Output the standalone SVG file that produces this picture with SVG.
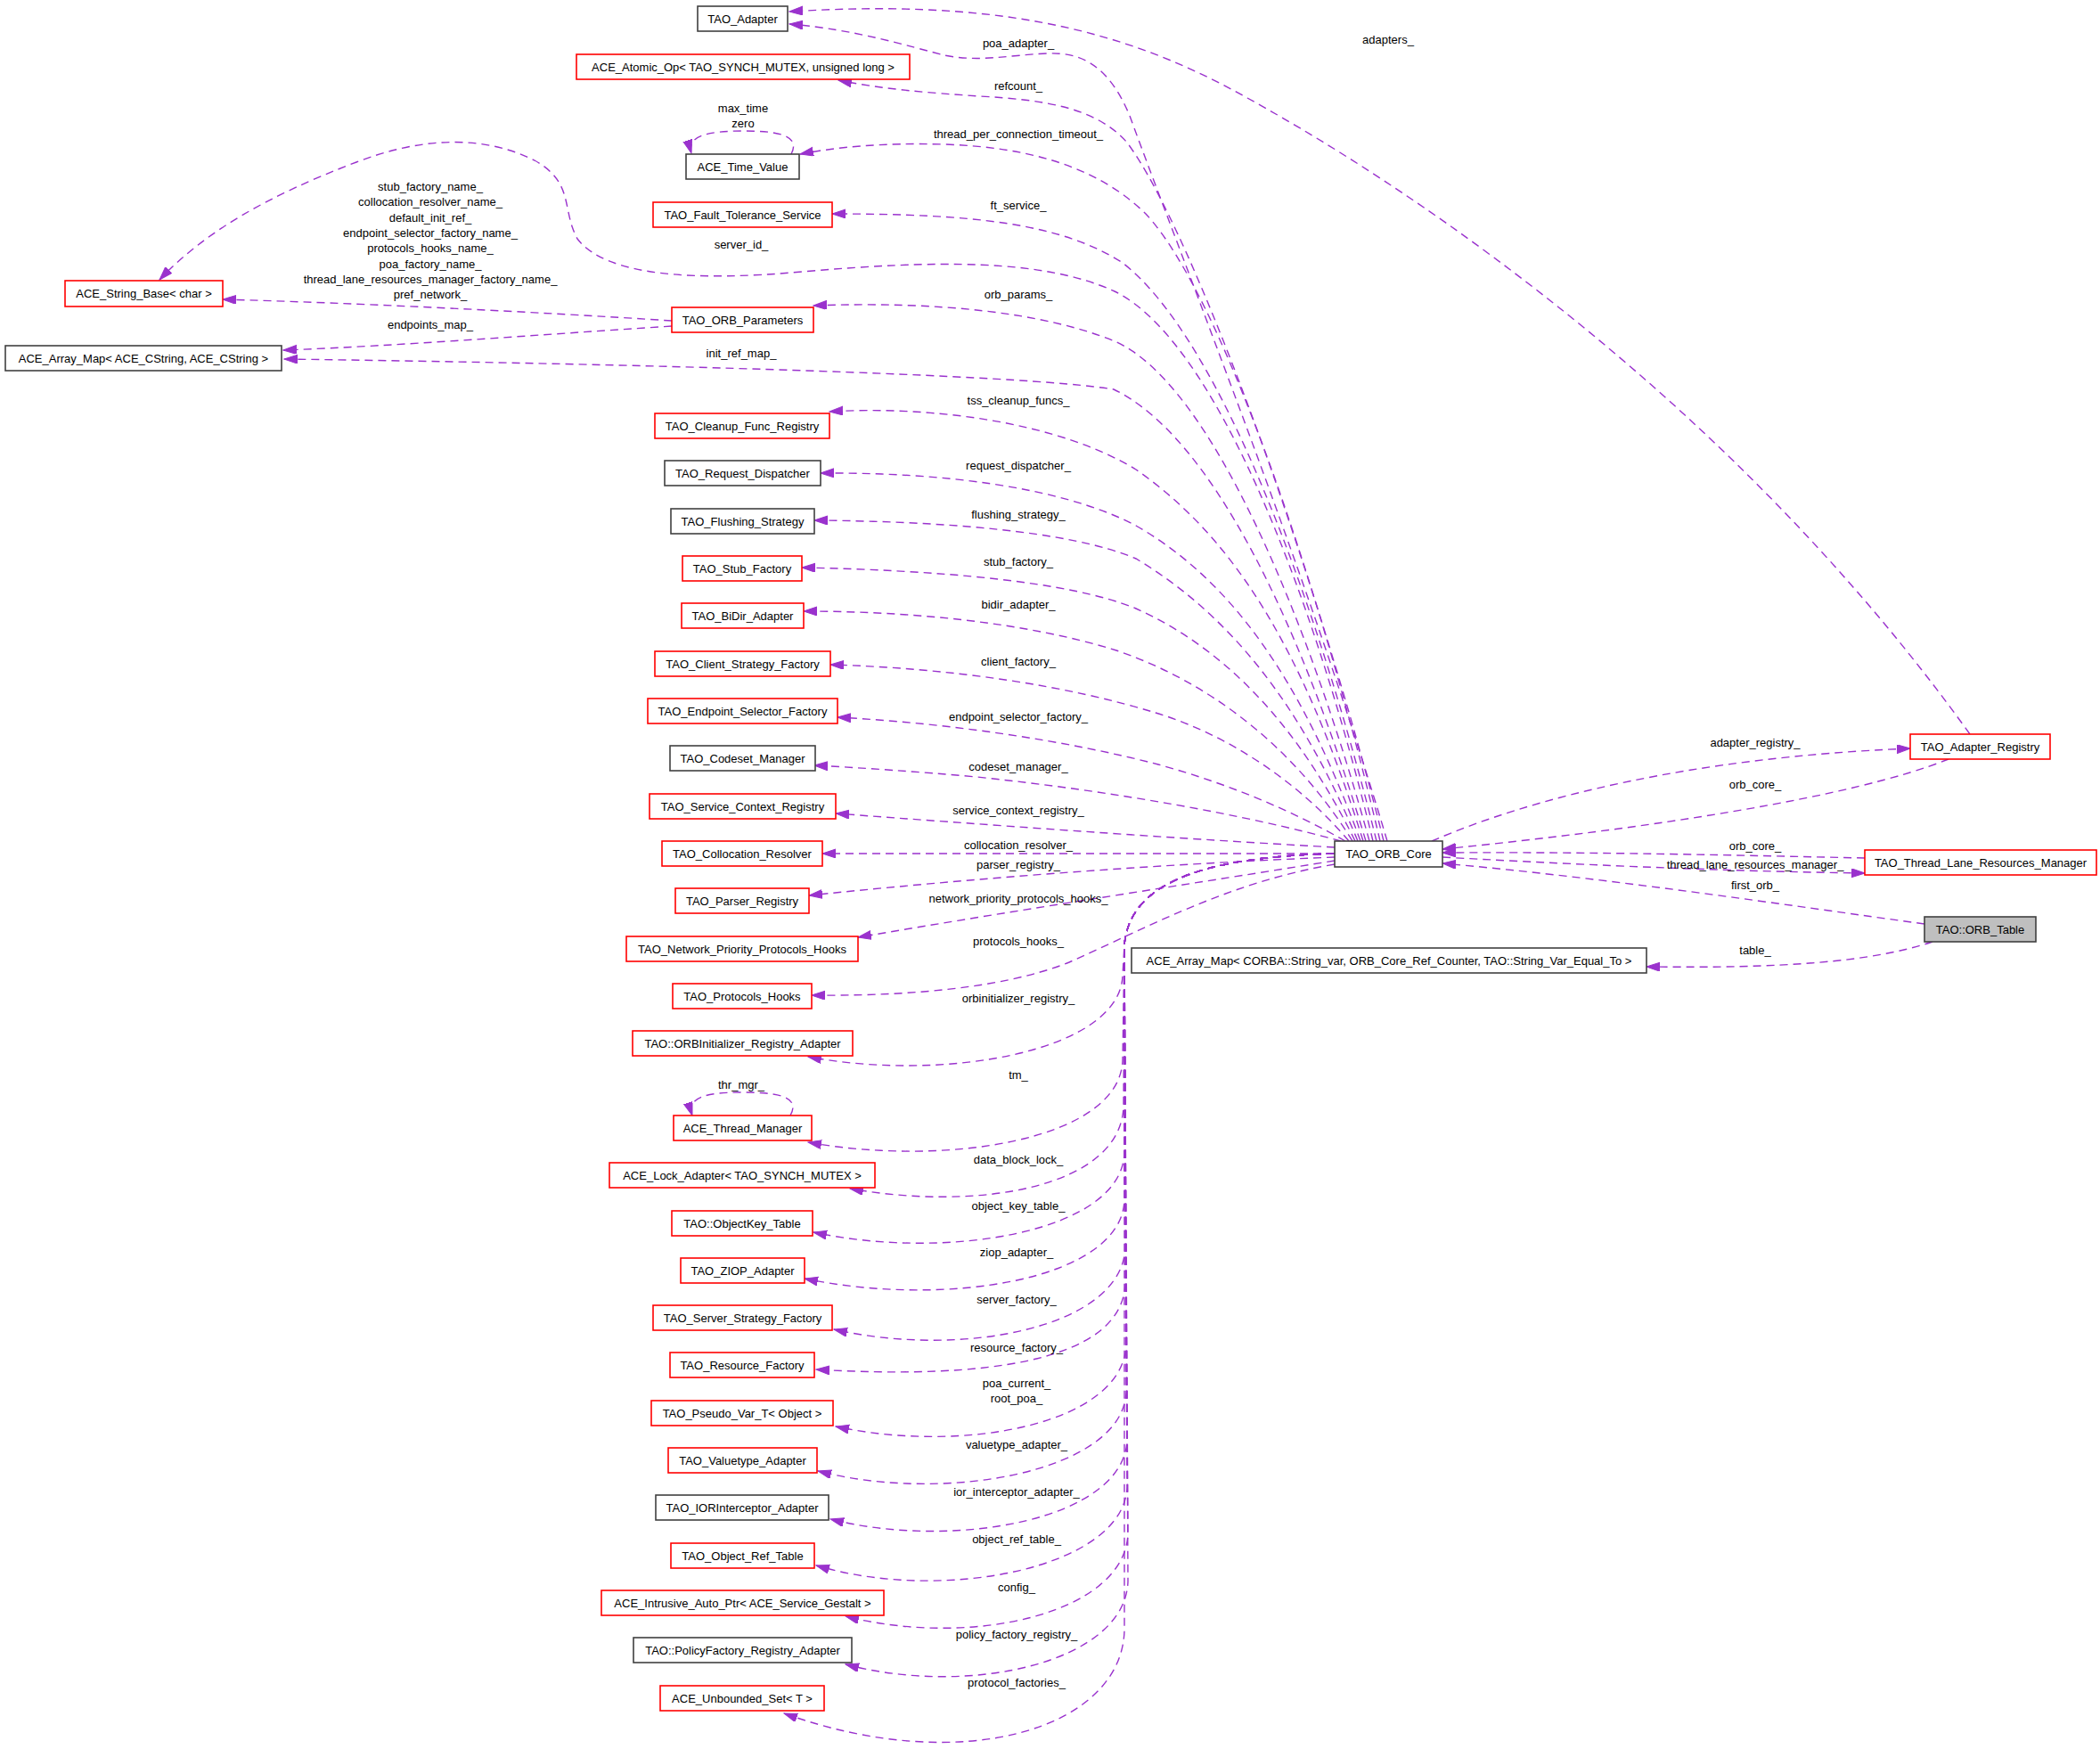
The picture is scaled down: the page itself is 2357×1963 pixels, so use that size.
<svg xmlns="http://www.w3.org/2000/svg" width="2357" height="1963" viewBox="0 0 2357 1963">
<style>
.nd rect{fill:#fff;stroke-width:1.6}
.k rect{stroke:#404040}
.r rect{stroke:#ff0000}
.g rect{fill:#bfbfbf;stroke:#404040}
text{font-family:"Liberation Sans",Arial,Helvetica,sans-serif;font-size:13px;fill:#000;text-anchor:middle}
.e path{fill:none;stroke:#9a32cd;stroke-width:1.4;stroke-dasharray:9,6;marker-end:url(#a)}
</style>
<defs>
<marker id="a" markerUnits="userSpaceOnUse" markerWidth="16" markerHeight="12" refX="15" refY="5" orient="auto"><path d="M0,0 L15,5 L0,10 z" fill="#9a32cd" stroke="#9a32cd" stroke-width="1"/></marker>
</defs>
<rect width="2357" height="1963" fill="#fff"/>
<g id="edges" class="e">
<path d="M1557,944 C1470,650 1330,300 1268,130 C1245,75 1215,58 1175,60 C1130,62 1100,70 1060,62 C1020,52 960,33 886,27"/><text x="1143" y="53">poa_adapter_</text>
<path d="M2211,824 C1950,460 1600,220 1400,110 C1250,25 1100,0 886,13"/><text x="1558" y="49">adapters_</text>
<path d="M1553,944 C1480,650 1340,260 1265,160 C1230,120 1170,112 1100,108 C1040,104 990,100 941,90"/><text x="1143" y="101">refcount_</text>
<path d="M1549,944 C1480,650 1370,330 1286,240 C1230,185 1150,165 1060,162 C990,160 940,165 898,173"/><text x="1143" y="155">thread_per_connection_timeout_</text>
<path d="M888,173 C900,150 868,147 834,147 C796,147 770,152 776,172"/><text x="834" y="126">max_time</text><text x="834" y="143">zero</text>
<path d="M1545,944 C1480,680 1370,380 1260,295 C1190,250 1090,240 934,240"/><text x="1143" y="235">ft_service_</text>
<path d="M1541,944 C1470,650 1360,380 1251,327 C1170,290 1050,292 900,305 C780,316 680,310 648,268 C630,235 645,205 600,180 C540,150 470,155 400,182 C300,220 230,260 179,314"/><text x="832" y="279">server_id_</text>
<path d="M1537,944 C1470,700 1360,430 1251,383 C1170,350 1050,338 913,343"/><text x="1143" y="335">orb_params_</text>
<path d="M754,360 C600,350 400,340 250,336"/>
<text x="483" y="214">stub_factory_name_</text><text x="483" y="231">collocation_resolver_name_</text><text x="483" y="249">default_init_ref_</text><text x="483" y="266">endpoint_selector_factory_name_</text><text x="483" y="283">protocols_hooks_name_</text><text x="483" y="301">poa_factory_name_</text><text x="483" y="318">thread_lane_resources_manager_factory_name_</text><text x="483" y="335">pref_network_</text>
<path d="M754,366 C600,376 450,388 318,393"/><text x="483" y="369">endpoints_map_</text>
<path d="M1533,944 C1460,700 1360,490 1250,437 C1150,420 700,408 319,403"/><text x="832" y="401">init_ref_map_</text>
<path d="M1530,944 C1460,720 1380,600 1275,527 C1190,475 1050,455 931,462"/><text x="1143" y="454">tss_cleanup_funcs_</text>
<path d="M1527,944 C1460,760 1380,650 1275,590 C1190,545 1050,530 921,531"/><text x="1143" y="527">request_dispatcher_</text>
<path d="M1524,944 C1460,790 1380,690 1275,627 C1200,595 1050,585 914,584"/><text x="1143" y="582">flushing_strategy_</text>
<path d="M1521,944 C1460,820 1380,730 1275,683 C1200,652 1050,640 900,637"/><text x="1143" y="635">stub_factory_</text>
<path d="M1518,944 C1460,850 1370,770 1253,730 C1150,698 1020,686 902,686"/><text x="1143" y="683">bidir_adapter_</text>
<path d="M1514,944 C1460,880 1380,825 1297,800 C1200,770 1070,750 932,746"/><text x="1143" y="747">client_factory_</text>
<path d="M1510,944 C1450,910 1380,880 1300,858 C1200,832 1070,812 940,805"/><text x="1143" y="809">endpoint_selector_factory_</text>
<path d="M1505,944 C1400,915 1250,888 1096,872 C1030,866 970,862 914,859"/><text x="1143" y="865">codeset_manager_</text>
<path d="M1498,951 C1300,940 1100,925 938,913"/><text x="1143" y="914">service_context_registry_</text>
<path d="M1498,958 L923,958"/><text x="1143" y="953">collocation_resolver_</text>
<path d="M1498,962 C1300,970 1100,985 908,1005"/><text x="1143" y="975">parser_registry_</text>
<path d="M1498,966 C1350,990 1150,1020 963,1052"/><text x="1143" y="1013">network_priority_protocols_hooks_</text>
<path d="M1498,970 C1380,990 1290,1040 1200,1080 C1120,1112 1000,1118 911,1117"/><text x="1143" y="1061">protocols_hooks_</text>
<path d="M1498,958 C1340,962 1268,995 1262,1060 L1260,1095 C1257,1180 1060,1215 907,1186"/><text x="1143" y="1125">orbinitializer_registry_</text>
<path d="M1498,958 C1340,962 1268,995 1262,1060 L1260,1190 C1257,1280 1060,1310 907,1282"/><text x="1143" y="1211">tm_</text>
<path d="M887,1252 C900,1229 868,1226 832,1226 C794,1226 770,1231 777,1252"/><text x="832" y="1222">thr_mgr_</text>
<path d="M1498,958 C1340,962 1268,995 1262,1060 L1261,1242 C1258,1332 1100,1360 954,1334"/><text x="1143" y="1306">data_block_lock_</text>
<path d="M1498,958 C1340,962 1268,995 1262,1060 L1262,1294 C1259,1384 1060,1415 913,1383"/><text x="1143" y="1358">object_key_table_</text>
<path d="M1498,958 C1340,962 1268,995 1262,1060 L1262,1347 C1259,1437 1060,1468 903,1435"/><text x="1141" y="1410">ziop_adapter_</text>
<path d="M1498,958 C1340,962 1268,995 1262,1060 L1263,1400 C1260,1490 1080,1525 936,1492"/><text x="1141" y="1463">server_factory_</text>
<path d="M1498,958 C1340,962 1268,995 1262,1060 L1263,1440 C1260,1530 1100,1548 916,1537"/><text x="1141" y="1517">resource_factory_</text>
<path d="M1498,958 C1340,962 1268,995 1262,1060 L1264,1509 C1261,1599 1080,1632 938,1601"/><text x="1141" y="1557">poa_current_</text><text x="1141" y="1574">root_poa_</text>
<path d="M1498,958 C1340,962 1268,995 1262,1060 L1264,1562 C1261,1652 1060,1688 918,1651"/><text x="1141" y="1626">valuetype_adapter_</text>
<path d="M1498,958 C1340,962 1268,995 1262,1060 L1265,1616 C1262,1706 1070,1740 932,1705"/><text x="1141" y="1679">ior_interceptor_adapter_</text>
<path d="M1498,958 C1340,962 1268,995 1262,1060 L1265,1669 C1262,1759 1060,1800 916,1757"/><text x="1141" y="1732">object_ref_table_</text>
<path d="M1498,958 C1340,962 1268,995 1262,1060 L1266,1721 C1263,1811 1090,1850 949,1814"/><text x="1141" y="1786">config_</text>
<path d="M1498,958 C1340,962 1268,995 1262,1060 L1266,1775 C1263,1865 1090,1905 949,1868"/><text x="1141" y="1839">policy_factory_registry_</text>
<path d="M1498,958 C1340,962 1268,995 1262,1060 L1262,1830 C1259,1940 1080,1995 880,1923"/><text x="1141" y="1893">protocol_factories_</text>
<path d="M1607,944 C1720,895 1900,850 2144,840"/><text x="1970" y="838">adapter_registry_</text>
<path d="M2187,852 C2080,895 1850,930 1619,953"/><text x="1970" y="885">orb_core_</text>
<path d="M2093,963 C1950,960 1800,956 1619,957"/><text x="1970" y="954">orb_core_</text>
<path d="M1619,962 C1800,972 1950,978 2093,980"/><text x="1970" y="975">thread_lane_resources_manager_</text>
<path d="M2160,1037 C2000,1015 1800,985 1619,969"/><text x="1970" y="998">first_orb_</text>
<path d="M2169,1057 C2100,1080 2000,1087 1848,1085"/><text x="1970" y="1071">table_</text>
</g>
<g id="n_TAO_Adapter" class="nd k"><rect x="783" y="7" width="101" height="28"/><text x="833.5" y="25.5">TAO_Adapter</text></g>
<g id="n_ACE_Atomic_Op" class="nd r"><rect x="647" y="61" width="374" height="28"/><text x="834" y="79.5">ACE_Atomic_Op&lt; TAO_SYNCH_MUTEX, unsigned long &gt;</text></g>
<g id="n_ACE_Time_Value" class="nd k"><rect x="770" y="173" width="127" height="28"/><text x="833.5" y="191.5">ACE_Time_Value</text></g>
<g id="n_TAO_Fault_Tolerance_Service" class="nd r"><rect x="733" y="227" width="201" height="28"/><text x="833.5" y="245.5">TAO_Fault_Tolerance_Service</text></g>
<g id="n_ACE_String_Base" class="nd r"><rect x="73" y="315" width="177" height="29"/><text x="161.5" y="334">ACE_String_Base&lt; char &gt;</text></g>
<g id="n_TAO_ORB_Parameters" class="nd r"><rect x="754" y="345" width="159" height="28"/><text x="833.5" y="363.5">TAO_ORB_Parameters</text></g>
<g id="n_ACE_Array_Map_CString" class="nd k"><rect x="6" y="388" width="310" height="28"/><text x="161" y="406.5">ACE_Array_Map&lt; ACE_CString, ACE_CString &gt;</text></g>
<g id="n_TAO_Cleanup_Func_Registry" class="nd r"><rect x="735" y="464" width="196" height="28"/><text x="833" y="482.5">TAO_Cleanup_Func_Registry</text></g>
<g id="n_TAO_Request_Dispatcher" class="nd k"><rect x="746" y="517" width="175" height="28"/><text x="833.5" y="535.5">TAO_Request_Dispatcher</text></g>
<g id="n_TAO_Flushing_Strategy" class="nd k"><rect x="753" y="571" width="161" height="28"/><text x="833.5" y="589.5">TAO_Flushing_Strategy</text></g>
<g id="n_TAO_Stub_Factory" class="nd r"><rect x="766" y="624" width="134" height="28"/><text x="833" y="642.5">TAO_Stub_Factory</text></g>
<g id="n_TAO_BiDir_Adapter" class="nd r"><rect x="765" y="677" width="137" height="28"/><text x="833.5" y="695.5">TAO_BiDir_Adapter</text></g>
<g id="n_TAO_Client_Strategy_Factory" class="nd r"><rect x="735" y="731" width="197" height="28"/><text x="833.5" y="749.5">TAO_Client_Strategy_Factory</text></g>
<g id="n_TAO_Endpoint_Selector_Factory" class="nd r"><rect x="727" y="784" width="213" height="28"/><text x="833.5" y="802.5">TAO_Endpoint_Selector_Factory</text></g>
<g id="n_TAO_Codeset_Manager" class="nd k"><rect x="752" y="837" width="163" height="28"/><text x="833.5" y="855.5">TAO_Codeset_Manager</text></g>
<g id="n_TAO_Service_Context_Registry" class="nd r"><rect x="729" y="891" width="209" height="28"/><text x="833.5" y="909.5">TAO_Service_Context_Registry</text></g>
<g id="n_TAO_Collocation_Resolver" class="nd r"><rect x="743" y="944" width="180" height="28"/><text x="833" y="962.5">TAO_Collocation_Resolver</text></g>
<g id="n_TAO_Parser_Registry" class="nd r"><rect x="758" y="997" width="150" height="28"/><text x="833" y="1015.5">TAO_Parser_Registry</text></g>
<g id="n_TAO_Network_Priority_Protocols_Hooks" class="nd r"><rect x="703" y="1051" width="260" height="28"/><text x="833" y="1069.5">TAO_Network_Priority_Protocols_Hooks</text></g>
<g id="n_TAO_Protocols_Hooks" class="nd r"><rect x="755" y="1104" width="156" height="28"/><text x="833" y="1122.5">TAO_Protocols_Hooks</text></g>
<g id="n_TAO_ORBInitializer_Registry_Adapter" class="nd r"><rect x="710" y="1157" width="247" height="28"/><text x="833.5" y="1175.5">TAO::ORBInitializer_Registry_Adapter</text></g>
<g id="n_ACE_Thread_Manager" class="nd r"><rect x="756" y="1252" width="155" height="28"/><text x="833.5" y="1270.5">ACE_Thread_Manager</text></g>
<g id="n_ACE_Lock_Adapter" class="nd r"><rect x="684" y="1305" width="298" height="28"/><text x="833" y="1323.5">ACE_Lock_Adapter&lt; TAO_SYNCH_MUTEX &gt;</text></g>
<g id="n_TAO_ObjectKey_Table" class="nd r"><rect x="754" y="1359" width="158" height="28"/><text x="833" y="1377.5">TAO::ObjectKey_Table</text></g>
<g id="n_TAO_ZIOP_Adapter" class="nd r"><rect x="764" y="1412" width="139" height="28"/><text x="833.5" y="1430.5">TAO_ZIOP_Adapter</text></g>
<g id="n_TAO_Server_Strategy_Factory" class="nd r"><rect x="733" y="1465" width="201" height="28"/><text x="833.5" y="1483.5">TAO_Server_Strategy_Factory</text></g>
<g id="n_TAO_Resource_Factory" class="nd r"><rect x="752" y="1518" width="162" height="28"/><text x="833" y="1536.5">TAO_Resource_Factory</text></g>
<g id="n_TAO_Pseudo_Var_T" class="nd r"><rect x="731" y="1572" width="204" height="28"/><text x="833" y="1590.5">TAO_Pseudo_Var_T&lt; Object &gt;</text></g>
<g id="n_TAO_Valuetype_Adapter" class="nd r"><rect x="750" y="1625" width="167" height="28"/><text x="833.5" y="1643.5">TAO_Valuetype_Adapter</text></g>
<g id="n_TAO_IORInterceptor_Adapter" class="nd k"><rect x="736" y="1678" width="194" height="28"/><text x="833" y="1696.5">TAO_IORInterceptor_Adapter</text></g>
<g id="n_TAO_Object_Ref_Table" class="nd r"><rect x="753" y="1732" width="161" height="28"/><text x="833.5" y="1750.5">TAO_Object_Ref_Table</text></g>
<g id="n_ACE_Intrusive_Auto_Ptr" class="nd r"><rect x="675" y="1785" width="317" height="28"/><text x="833.5" y="1803.5">ACE_Intrusive_Auto_Ptr&lt; ACE_Service_Gestalt &gt;</text></g>
<g id="n_TAO_PolicyFactory_Registry_Adapter" class="nd k"><rect x="711" y="1838" width="245" height="28"/><text x="833.5" y="1856.5">TAO::PolicyFactory_Registry_Adapter</text></g>
<g id="n_ACE_Unbounded_Set" class="nd r"><rect x="741" y="1892" width="184" height="28"/><text x="833" y="1910.5">ACE_Unbounded_Set&lt; T &gt;</text></g>
<g id="n_TAO_ORB_Core" class="nd k"><rect x="1498" y="944" width="121" height="29"/><text x="1558.5" y="963">TAO_ORB_Core</text></g>
<g id="n_ACE_Array_Map_StringVar" class="nd k"><rect x="1270" y="1064" width="578" height="28"/><text x="1559" y="1082.5">ACE_Array_Map&lt; CORBA::String_var, ORB_Core_Ref_Counter, TAO::String_Var_Equal_To &gt;</text></g>
<g id="n_TAO_Adapter_Registry" class="nd r"><rect x="2144" y="824" width="157" height="28"/><text x="2222.5" y="842.5">TAO_Adapter_Registry</text></g>
<g id="n_TAO_Thread_Lane_Resources_Manager" class="nd r"><rect x="2093" y="954" width="260" height="28"/><text x="2223" y="972.5">TAO_Thread_Lane_Resources_Manager</text></g>
<g id="n_TAO_ORB_Table" class="nd g"><rect x="2160" y="1029" width="125" height="28"/><text x="2222.5" y="1047.5">TAO::ORB_Table</text></g>
</svg>
